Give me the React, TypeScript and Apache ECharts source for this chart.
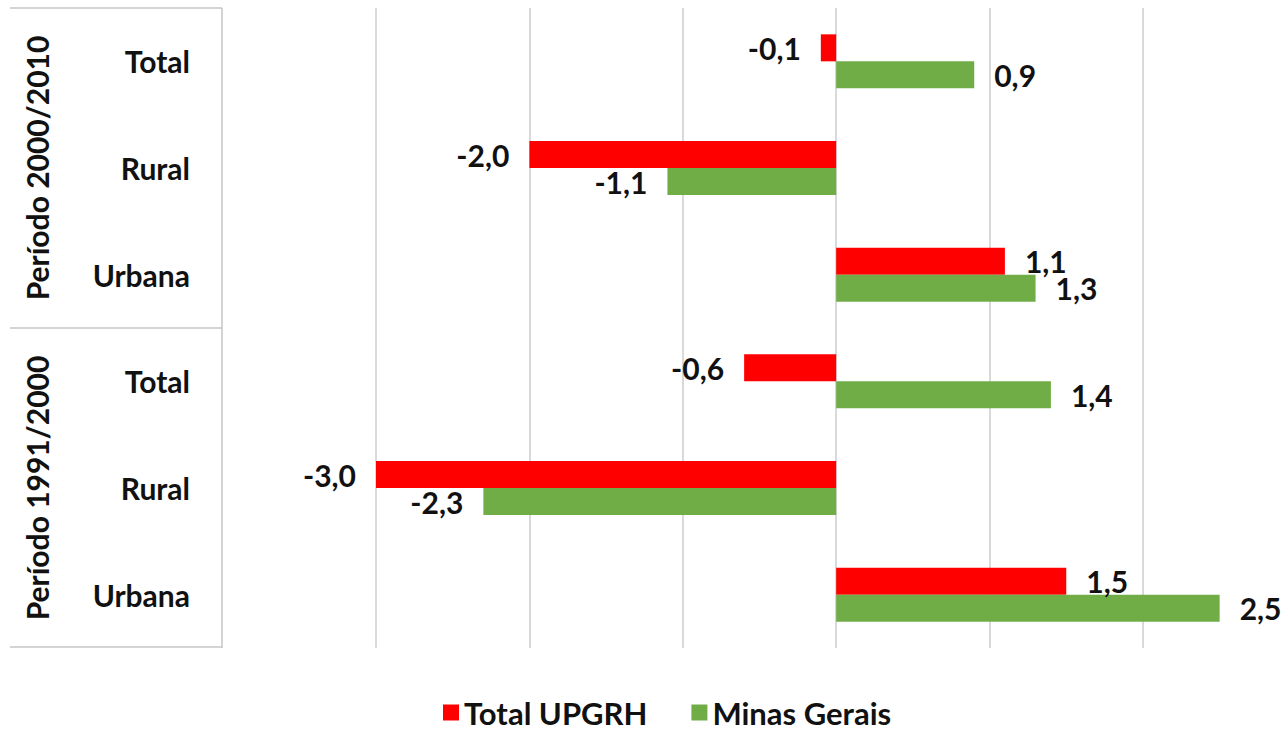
import React, { useEffect, useRef } from "react";
import * as echarts from "echarts";

const periods = ["Período 2000/2010", "Período 1991/2000"];
const subCategories = ["Total", "Rural", "Urbana"];
const seriesNames = ["Total UPGRH", "Minas Gerais"];
// values listed top to bottom: 2000/2010 Total, Rural, Urbana, 1991/2000 Total, Rural, Urbana
const totalUpgrh = [-0.1, -2.0, 1.1, -0.6, -3.0, 1.5];
const minasGerais = [0.9, -1.1, 1.3, 1.4, -2.3, 2.5];
const xMin = -3;
const xMax = 2.9; // visible part of the axis (the picture is cut at the right edge)

const FONT = "Lato";
const FS = 30;

export default function App() {
  const ref = useRef<HTMLDivElement>(null);

  useEffect(() => {
    if (!ref.current) return;
    const chart = echarts.init(ref.current, null, { renderer: "svg" });

    const yCats: string[] = [];
    periods.forEach((p) => subCategories.forEach((c) => yCats.push(p + "|" + c)));

    const fmt = (v: number) => v.toFixed(1).replace(".", ",");
    const makeData = (vals: number[]) =>
      vals.map((v) => ({
        value: v,
        label: { position: v < 0 ? "left" : "right" },
      }));

    const gridTop = 8;
    const gridHeight = 640;
    const band = gridHeight / yCats.length;
    const lineStyle = { stroke: "#c6c6c6", lineWidth: 1.5 };

    const labelStyle = {
      show: true,
      formatter: (p: any) => fmt(p.value),
      fontFamily: FONT,
      fontWeight: "bold" as const,
      fontSize: FS,
      color: "#111",
      distance: 20,
    };

    chart.setOption({
      animation: false,
      backgroundColor: "#ffffff",
      grid: { left: 376, top: gridTop, right: 0, height: gridHeight },
      xAxis: {
        type: "value",
        min: xMin,
        max: xMax,
        interval: 1,
        axisLabel: { show: false },
        axisLine: { show: false },
        axisTick: { show: false },
        splitLine: {
          show: true,
          showMaxLine: false,
          lineStyle: { color: "#d9d9d9", width: 2 },
        },
      },
      yAxis: {
        type: "category",
        inverse: true,
        data: yCats,
        axisLine: { show: false },
        axisTick: { show: false },
        splitLine: { show: false },
        axisLabel: {
          margin: 186,
          formatter: (v: string) => v.split("|")[1],
          fontFamily: FONT,
          fontWeight: "bold",
          fontSize: FS,
          color: "#111",
        },
      },
      legend: {
        top: 697,
        left: 443,
        icon: "rect",
        itemWidth: 16,
        itemHeight: 16,
        itemGap: 44,
        padding: 0,
        textStyle: { fontFamily: FONT, fontWeight: "bold", fontSize: 31, color: "#111", lineHeight: 30 },
        data: seriesNames,
      },
      series: [
        {
          name: seriesNames[0],
          type: "bar",
          barWidth: 27,
          barGap: "0%",
          itemStyle: { color: "#ff0000" },
          label: labelStyle,
          data: makeData(totalUpgrh),
        },
        {
          name: seriesNames[1],
          type: "bar",
          barWidth: 27,
          barGap: "0%",
          itemStyle: { color: "#70ad47" },
          label: labelStyle,
          data: makeData(minasGerais),
        },
      ],
      graphic: [
        { type: "line", shape: { x1: 10, y1: gridTop, x2: 222, y2: gridTop }, style: lineStyle },
        { type: "line", shape: { x1: 222, y1: gridTop, x2: 222, y2: gridTop + gridHeight }, style: lineStyle },
        { type: "line", shape: { x1: 10, y1: gridTop + band * 3, x2: 222, y2: gridTop + band * 3 }, style: lineStyle },
        { type: "line", shape: { x1: 10, y1: gridTop + gridHeight - 1, x2: 222, y2: gridTop + gridHeight - 1 }, style: lineStyle },
        ...periods.map((p, i) => ({
          type: "text",
          x: 37,
          y: gridTop + band * (1.5 + 3 * i),
          rotation: Math.PI / 2,
          style: {
            text: p,
            fontFamily: FONT,
            fontWeight: "bold",
            fontSize: FS,
            fill: "#111",
            textAlign: "center",
            textVerticalAlign: "middle",
          },
        })),
      ],
    });

    return () => chart.dispose();
  }, []);

  return (
    <div
      ref={ref}
      style={{ position: "fixed", left: 0, top: 0, width: 1281, height: 731 }}
    />
  );
}
